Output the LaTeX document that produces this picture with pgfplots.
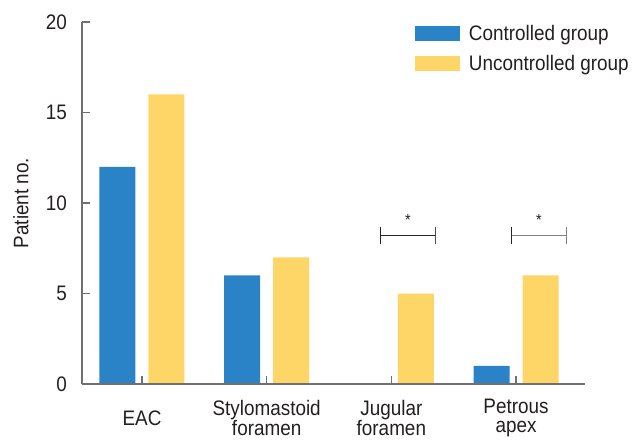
\documentclass[border=0pt]{standalone}
\usepackage{fontspec}
\setmainfont{Liberation Sans}[FakeStretch=0.9]
\usepackage{pgfplots}
\pgfplotsset{compat=1.18}
\definecolor{cblue}{HTML}{2A82C7}
\definecolor{cyel}{HTML}{FDD667}
\definecolor{axgray}{HTML}{707070}
\definecolor{txt}{HTML}{231F20}
\newcommand{\fnt}{\fontsize{21}{19}\selectfont}
\begin{document}
\begin{tikzpicture}
\useasboundingbox (-82pt,-56pt) rectangle (551pt,384pt);
\begin{axis}[
  at={(0,0)}, anchor=south west,
  scale only axis, width=503pt, height=362pt,
  xmin=-0.481, xmax=3.553, ymin=0, ymax=20,
  enlargelimits=false,
  axis lines*=left,
  axis line style={draw=axgray, line width=1.2pt, -},
  axis on top,
  xtick={0,1,2,3},
  xticklabels={EAC, Stylomastoid\\foramen, Jugular\\foramen, Petrous\\apex},
  ytick={0,5,10,15,20},
  tick align=inside,
  major tick length=8pt,
  tick style={draw=axgray, line width=1.2pt},
  /pgf/number format/assume math mode=true,
  every tick label/.append style={font=\fnt, text=txt, inner sep=0pt},
  yticklabel style={anchor=east, xshift=-15pt},
  xticklabel style={align=center, anchor=center, yshift=-34pt},
  ylabel={Patient no.},
  ylabel style={font=\fnt, text=txt, inner sep=0pt, at={(rel axis cs:-0.1372,0.5)}, anchor=north},
  legend style={draw=none, fill=none, inner sep=0pt, outer sep=0pt,
    at={(rel axis cs:0.662,0.989)}, anchor=north west,
    nodes={inner sep=0pt, text height=15pt, text depth=4pt, font=\fnt, text=txt},
    row sep=11pt, column sep=9pt},
  legend cell align=left,
  legend image code/.code={\fill[#1] (0pt,-6pt) rectangle (45pt,9pt);},
]
\addplot[ybar, bar width=36pt, bar shift=-24.5pt, fill=cblue, draw=none] coordinates {(0,12) (1,6) (2,0) (3,1)};
\addlegendentry{Controlled group}
\addplot[ybar, bar width=36pt, bar shift=24.5pt, fill=cyel, draw=none] coordinates {(0,16) (1,7) (2,5) (3,6)};
\addlegendentry{Uncontrolled group}
\draw[black!85, line width=1pt] (axis cs:1.909,8.23) -- (axis cs:2.358,8.23);
\draw[black!85, line width=1pt] (axis cs:1.909,7.73) -- (axis cs:1.909,8.67);
\draw[black!70, line width=1pt] (axis cs:2.358,7.73) -- (axis cs:2.358,8.67);
\draw[gray, line width=1pt] (axis cs:2.967,8.23) -- (axis cs:3.408,8.23);
\draw[black!85, line width=1pt] (axis cs:2.967,7.73) -- (axis cs:2.967,8.67);
\draw[gray, line width=1pt] (axis cs:3.408,7.73) -- (axis cs:3.408,8.67);
\node[font=\fontsize{16}{16}\selectfont, text=txt, inner sep=0pt, anchor=base] at (axis cs:2.133,8.78) {*};
\node[font=\fontsize{16}{16}\selectfont, text=txt, inner sep=0pt, anchor=base] at (axis cs:3.184,8.78) {*};
\end{axis}
\end{tikzpicture}
\end{document}
